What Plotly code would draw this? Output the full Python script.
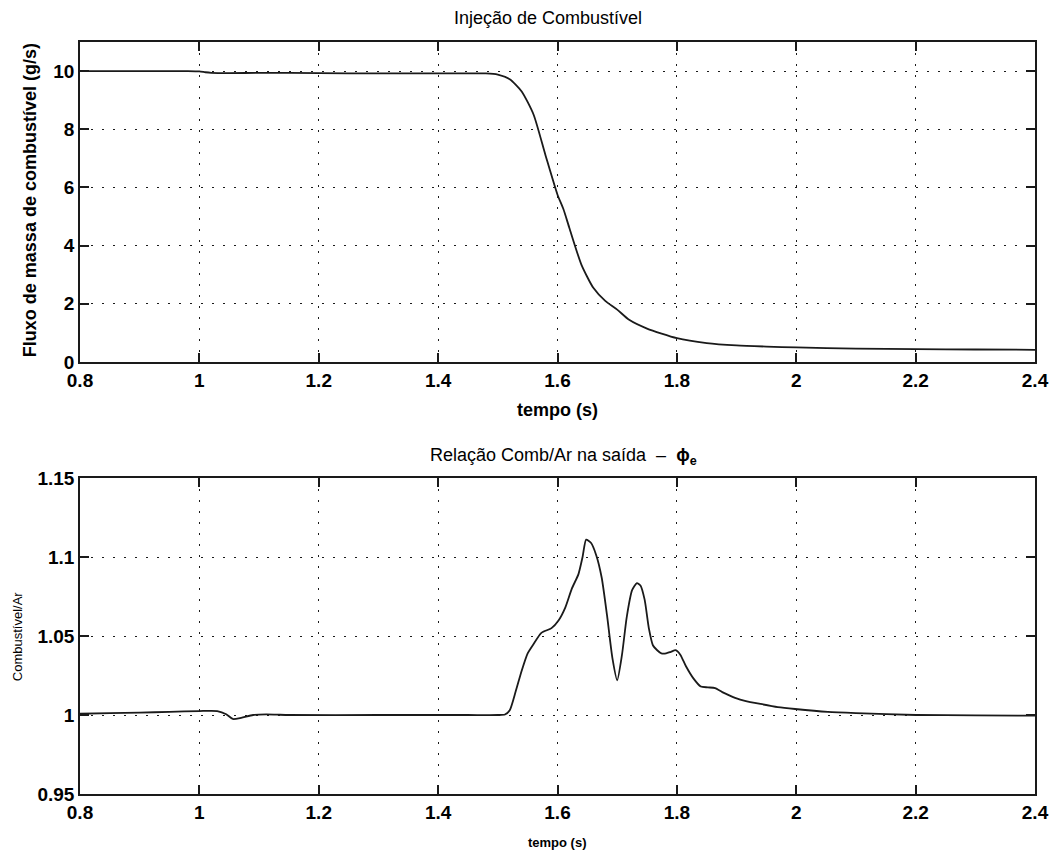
import plotly.graph_objects as go
from plotly.subplots import make_subplots

# ---- data: top (fuel mass flow, g/s) ----
t_fuel = [0.80, 0.90, 0.98, 1.00, 1.01, 1.02, 1.05, 1.10, 1.20, 1.30, 1.40, 1.48, 1.50, 1.52, 1.54,
          1.56, 1.58, 1.60, 1.61, 1.62, 1.64, 1.66, 1.68, 1.70, 1.72, 1.75, 1.80,
          1.85, 1.90, 1.95, 2.00, 2.10, 2.20, 2.30, 2.40]
fuel = [10.0, 10.0, 10.0, 9.99, 9.96, 9.94, 9.93, 9.94, 9.93, 9.92, 9.92, 9.92, 9.88, 9.72, 9.3,
        8.5, 7.1, 5.75, 5.25, 4.6, 3.35, 2.55, 2.1, 1.8, 1.45, 1.15, 0.82,
        0.65, 0.57, 0.53, 0.5, 0.46, 0.44, 0.43, 0.42]

# ---- data: bottom (fuel/air ratio at exit) ----
t_phi = [0.80, 0.85, 0.90, 0.95, 1.00, 1.03, 1.045, 1.056, 1.07, 1.09, 1.112, 1.13, 1.15,
         1.30, 1.45, 1.50, 1.512, 1.52, 1.53, 1.54, 1.55, 1.56, 1.573, 1.59, 1.602, 1.613, 1.624,
         1.635, 1.642, 1.648, 1.656, 1.665, 1.674, 1.683, 1.692, 1.700, 1.708, 1.716,
         1.725, 1.733, 1.739, 1.746, 1.753, 1.760, 1.767, 1.774, 1.782, 1.790, 1.798,
         1.806, 1.815, 1.828, 1.840, 1.852, 1.864, 1.876, 1.886, 1.900, 1.914, 1.940,
         1.969, 1.998, 2.053, 2.10, 2.20, 2.30, 2.40]
phi = [1.0008, 1.0012, 1.0015, 1.002, 1.0025, 1.0025, 1.0005, 0.9975, 0.9982, 1.0, 1.0004,
       1.0002, 1.0, 1.0, 1.0, 1.0, 1.0003, 1.003, 1.015, 1.028, 1.039, 1.045, 1.052, 1.055,
       1.060, 1.068, 1.080, 1.089, 1.100, 1.111, 1.109, 1.101, 1.087, 1.063, 1.036,
       1.022, 1.038, 1.062, 1.079, 1.0835, 1.082, 1.073, 1.055, 1.044, 1.041, 1.039,
       1.039, 1.040, 1.041, 1.038, 1.031, 1.023, 1.018, 1.0175, 1.017, 1.0145, 1.0127,
       1.0105, 1.009, 1.007, 1.005, 1.0038, 1.002, 1.0012, 1.0, 0.9998, 0.9996]

x_ticks = [0.8, 1.0, 1.2, 1.4, 1.6, 1.8, 2.0, 2.2, 2.4]
x_tick_labels = ["0.8", "1", "1.2", "1.4", "1.6", "1.8", "2", "2.2", "2.4"]
y1_ticks = [0, 2, 4, 6, 8, 10]
y2_ticks = [0.95, 1.0, 1.05, 1.1, 1.15]
y2_tick_labels = ["0.95", "1", "1.05", "1.1", "1.15"]

W, H = 1061, 852
L, R, T, B = 80, 23, 42, 58
PW, PH = W - L - R, H - T - B


def px(x):
    return (x - L) / PW


def py(y):
    return (H - B - y) / PH


fig = make_subplots(rows=2, cols=1)
fig.add_trace(go.Scatter(x=t_fuel, y=fuel, mode="lines",
                         line=dict(color="#1a1a1a", width=1.8, shape="spline", smoothing=0.6),
                         showlegend=False), row=1, col=1)
fig.add_trace(go.Scatter(x=t_phi, y=phi, mode="lines",
                         line=dict(color="#1a1a1a", width=1.8, shape="spline", smoothing=0.6),
                         showlegend=False), row=2, col=1)

FONT = "Liberation Sans, Arial, Helvetica, sans-serif"
axis_common = dict(
    showline=True, linecolor="#1a1a1a", linewidth=1.5, mirror="allticks",
    ticks="inside", ticklen=9, tickwidth=1.5, tickcolor="#1a1a1a",
    showgrid=True, gridcolor="#1a1a1a", gridwidth=1.4, griddash="2px,9px",
    zeroline=False,
    tickfont=dict(family=FONT, size=19, color="#000000"),
)

fig.update_xaxes(range=[0.8, 2.4], tickvals=x_ticks, ticktext=["<b>%s</b>" % s for s in x_tick_labels],
                 **axis_common)
fig.update_yaxes(range=[0, 11], tickvals=y1_ticks, ticktext=["<b>%d</b>" % v for v in y1_ticks],
                 row=1, col=1, **axis_common)
fig.update_yaxes(range=[0.95, 1.15], tickvals=y2_ticks, ticktext=["<b>%s</b>" % s for s in y2_tick_labels],
                 row=2, col=1, **axis_common)

fig.update_layout(
    width=W, height=H,
    margin=dict(l=L, r=R, t=T, b=B),
    paper_bgcolor="white", plot_bgcolor="white",
    font=dict(family=FONT, color="#000000"),
    xaxis=dict(domain=[0, 1], anchor="y"),
    yaxis=dict(domain=[py(362), 1]),
    xaxis2=dict(domain=[0, 1], anchor="y2"),
    yaxis2=dict(domain=[0, py(478)]),
)

ann = [
    dict(text="Injeção de Combustível", x=px(549), y=py(18), size=18),
    dict(text="<b>tempo (s)</b>", x=px(559), y=py(410), size=18),
    dict(text="Relação Comb/Ar na saída  –  <b>ϕ<sub>e</sub></b>", x=px(565), y=py(457), size=18),
    dict(text="<b>tempo (s)</b>", x=px(559), y=py(842), size=13),
]
for a in ann:
    fig.add_annotation(text=a["text"], x=a["x"], y=a["y"], xref="paper", yref="paper",
                       showarrow=False, xanchor="center", yanchor="middle",
                       font=dict(family=FONT, size=a["size"], color="#000000"))

fig.add_annotation(text="<b>Fluxo de massa de combustível (g/s)</b>", x=px(30), y=py(200),
                   xref="paper", yref="paper", showarrow=False, textangle=-90,
                   xanchor="center", yanchor="middle",
                   font=dict(family=FONT, size=18, color="#000000"))
fig.add_annotation(text="Combustível/Ar", x=px(17), y=py(636),
                   xref="paper", yref="paper", showarrow=False, textangle=-90,
                   xanchor="center", yanchor="middle",
                   font=dict(family=FONT, size=13, color="#000000"))

fig.write_html("out.html")
